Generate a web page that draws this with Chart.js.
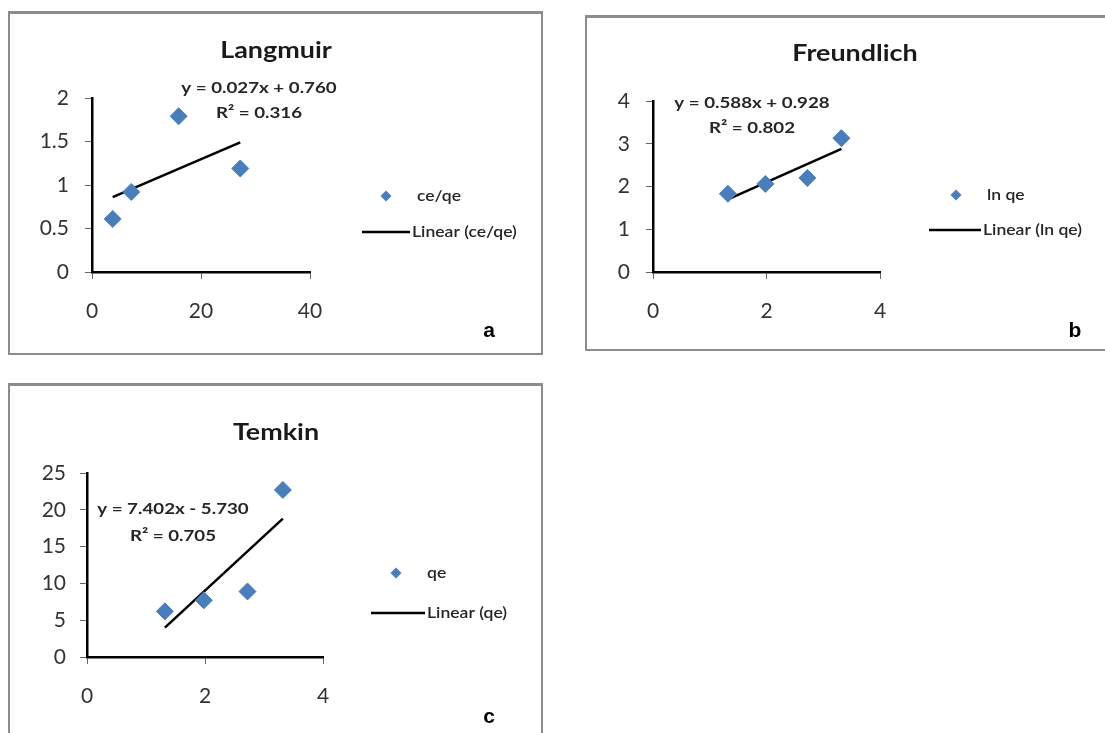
<!DOCTYPE html>
<html>
<head>
<meta charset="utf-8">
<script src="https://cdn.jsdelivr.net/npm/chart.js@4.4.0/dist/chart.umd.min.js"></script>
<style>
  body { margin: 0; background: #fff; width: 1105px; height: 733px; overflow: hidden; position: relative; }
  .panel { position: absolute; box-sizing: border-box; border: 2px solid #8c8c8c; border-top-width: 3px; background: #fff; }
  .panel canvas { position: absolute; left: 0; top: 0; }
</style>
</head>
<body>
<div class="panel" id="pa" style="left:8px;top:11px;width:535px;height:344px"><canvas id="ca"></canvas></div>
<div class="panel" id="pb" style="left:585px;top:15px;width:525px;height:336px"><canvas id="cb"></canvas></div>
<div class="panel" id="pc" style="left:8px;top:383px;width:535px;height:360px"><canvas id="cc"></canvas></div>
<script>
// Langmuir: ce vs ce/qe
const langmuirCe = [3.8, 7.2, 15.9, 27.2];
const langmuirCeQe = [0.61, 0.92, 1.79, 1.19];
const langmuirFitX = [3.8, 27.2];
const langmuirFitY = [0.86, 1.49];

// Freundlich / Temkin share ln ce on x
const lnCe = [1.32, 1.98, 2.72, 3.32];
const lnQe = [1.83, 2.06, 2.20, 3.13];
const freundlichFitX = [1.32, 3.32];
const freundlichFitY = [1.70, 2.88];

const qe = [6.2, 7.7, 8.9, 22.7];
const temkinFitX = [1.32, 3.32];
const temkinFitY = [4.0, 18.8];

// axis ranges: [min, max, step]
const langmuirXAxis = [0, 40, 20];
const langmuirYAxis = [0, 2, 0.5];
const freundlichXAxis = [0, 4, 2];
const freundlichYAxis = [0, 4, 1];
const temkinXAxis = [0, 4, 2];
const temkinYAxis = [0, 25, 5];

const MARKER = '#4a7ebb';
const TICK_FONT = { family: 'Lato, sans-serif', size: 21 };
const STRETCH = 1.17; // source figure is a bit wider than tall

function pts(xs, ys) {
    return xs.map((x, i) => ({ x: x, y: ys[i] }));
}

// Panel layout, all in page pixels
const panels = [
    {
        canvas: 'ca', box: [8, 11, 535, 344], area: [92, 310, 98, 272],
        xs: langmuirCe, ys: langmuirCeQe, fitX: langmuirFitX, fitY: langmuirFitY,
        xAxis: langmuirXAxis, yAxis: langmuirYAxis, yPad: 16,
        title: 'Langmuir', titlePos: [276, 51],
        eq: ['y = 0.027x + 0.760', 'R² = 0.316'], eqPos: [259, 88, 113],
        series: 'ce/qe', legMarker: [386, 196], legLine: [362, 410, 232],
        letter: 'a', letterPos: [489, 331]
    },
    {
        canvas: 'cb', box: [585, 15, 525, 336], area: [653, 880, 101, 272],
        xs: lnCe, ys: lnQe, fitX: freundlichFitX, fitY: freundlichFitY,
        xAxis: freundlichXAxis, yAxis: freundlichYAxis, yPad: 16,
        title: 'Freundlich', titlePos: [855, 54],
        eq: ['y = 0.588x + 0.928', 'R² = 0.802'], eqPos: [752, 103, 128],
        series: 'ln qe', legMarker: [956, 195], legLine: [929, 981, 230],
        letter: 'b', letterPos: [1075, 331]
    },
    {
        canvas: 'cc', box: [8, 383, 535, 360], area: [87, 323, 473, 657],
        xs: lnCe, ys: qe, fitX: temkinFitX, fitY: temkinFitY,
        xAxis: temkinXAxis, yAxis: temkinYAxis, yPad: 14,
        title: 'Temkin', titlePos: [276, 433],
        eq: ['y = 7.402x - 5.730', 'R² = 0.705'], eqPos: [173, 509, 536],
        series: 'qe', legMarker: [396, 573], legLine: [371, 425, 613],
        letter: 'c', letterPos: [489, 717]
    }
];

function wideText(ctx, text, x, y, sx) {
    ctx.save();
    ctx.translate(x, y);
    ctx.scale(sx, 1);
    ctx.fillText(text, 0, 0);
    ctx.restore();
}

// Draws title, trend equation, legend and panel letter
const annotations = {
    id: 'annotations',
    afterDraw(chart, args, o) {
        const ctx = chart.ctx;
        const p = o.panel;
        const ox = p.box[0] + 2, oy = p.box[1] + 3;
        ctx.save();
        ctx.fillStyle = '#1a1a1a';
        ctx.textAlign = 'center';
        ctx.textBaseline = 'middle';

        ctx.font = 'bold 23px Lato, sans-serif';
        wideText(ctx, p.title, p.titlePos[0] - ox, p.titlePos[1] - oy, STRETCH);

        ctx.font = 'bold 16px Lato, sans-serif';
        ctx.fillStyle = '#262626';
        wideText(ctx, p.eq[0], p.eqPos[0] - ox, p.eqPos[1] - oy, STRETCH);
        wideText(ctx, p.eq[1], p.eqPos[0] - ox, p.eqPos[2] - oy, STRETCH);

        // legend
        const mx = p.legMarker[0] - ox, my = p.legMarker[1] - oy;
        ctx.fillStyle = MARKER;
        ctx.beginPath();
        ctx.moveTo(mx, my - 5.5);
        ctx.lineTo(mx + 5.5, my);
        ctx.lineTo(mx, my + 5.5);
        ctx.lineTo(mx - 5.5, my);
        ctx.closePath();
        ctx.fill();

        ctx.strokeStyle = '#000';
        ctx.lineWidth = 2.5;
        ctx.beginPath();
        ctx.moveTo(p.legLine[0] - ox, p.legLine[2] - oy);
        ctx.lineTo(p.legLine[1] - ox, p.legLine[2] - oy);
        ctx.stroke();

        ctx.fillStyle = '#262626';
        ctx.textAlign = 'left';
        ctx.font = '600 15px Lato, sans-serif';
        wideText(ctx, p.series, mx + 31, my, STRETCH);
        wideText(ctx, 'Linear (' + p.series + ')', p.legLine[1] - ox + 2, p.legLine[2] - oy, STRETCH);

        ctx.fillStyle = '#000';
        ctx.textAlign = 'center';
        ctx.font = 'bold 21px "Liberation Sans", Arial, sans-serif';
        ctx.fillText(p.letter, p.letterPos[0] - ox, p.letterPos[1] - oy);
        ctx.restore();
    }
};

function buildPanel(p) {
    const ox = p.box[0] + 2, oy = p.box[1] + 3;
    const W = p.box[2] - 4, H = p.box[3] - 5;
    const canvas = document.getElementById(p.canvas);
    canvas.width = W;
    canvas.height = H;
    const padLeft = 4;
    const yWidth = p.area[0] - ox - padLeft;
    const xHeight = 50;

    return new Chart(canvas, {
        type: 'scatter',
        data: {
            datasets: [
                {
                    label: p.series,
                    data: pts(p.xs, p.ys),
                    pointStyle: 'rectRot',
                    pointRadius: 8.5,
                    backgroundColor: MARKER,
                    borderColor: MARKER,
                    borderWidth: 1
                },
                {
                    label: 'Linear (' + p.series + ')',
                    data: pts(p.fitX, p.fitY),
                    showLine: true,
                    pointRadius: 0,
                    borderColor: '#000',
                    borderWidth: 2.5
                }
            ]
        },
        options: {
            responsive: false,
            animation: false,
            layout: {
                padding: {
                    left: padLeft,
                    top: p.area[2] - oy,
                    right: ox + W - p.area[1],
                    bottom: oy + H - p.area[3] - xHeight
                }
            },
            plugins: {
                legend: { display: false },
                tooltip: { enabled: false },
                annotations: { panel: p }
            },
            scales: {
                x: {
                    type: 'linear',
                    min: p.xAxis[0], max: p.xAxis[1],
                    ticks: { stepSize: p.xAxis[2], padding: 20, color: '#333', font: TICK_FONT,
                             callback: v => String(v) },
                    grid: { drawOnChartArea: false, tickLength: 7, color: '#666', lineWidth: 1 },
                    border: { color: '#000', width: 2.5 },
                    afterFit(s) { s.height = xHeight; }
                },
                y: {
                    type: 'linear',
                    min: p.yAxis[0], max: p.yAxis[1],
                    ticks: { stepSize: p.yAxis[2], padding: p.yPad, color: '#333', font: TICK_FONT,
                             callback: v => String(v) },
                    grid: { drawOnChartArea: false, tickLength: 7, color: '#666', lineWidth: 1 },
                    border: { color: '#000', width: 2.5 },
                    afterFit(s) { s.width = yWidth; }
                }
            }
        },
        plugins: [annotations]
    });
}

panels.forEach(buildPanel);
</script>
</body>
</html>
